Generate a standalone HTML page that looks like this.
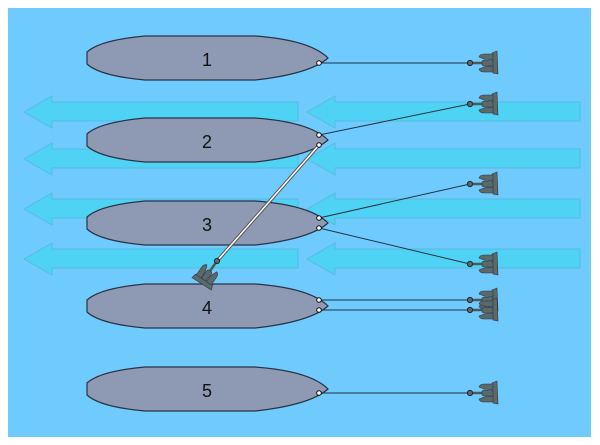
<!DOCTYPE html>
<html><head><style>body{margin:0;background:#fff}svg{display:block}</style></head>
<body>
<svg width="600" height="445" viewBox="0 0 600 445" xmlns="http://www.w3.org/2000/svg">
<defs>
<path id="arrL" d="M24,112 L52,96 L52,102 L298,102 L298,121 L52,121 L52,128 Z"/>
<path id="arrR" d="M307,112 L335,96 L335,102 L580,102 L580,121 L335,121 L335,128 Z"/>
<path id="ship" d="M87,52 Q100,40 145,36 L255,36 Q310,40 328,58 Q310,74 255,80 L145,80 Q100,76 87,64 Z"/>
<g id="anc">
<line x1="0" y1="0" x2="22" y2="0" stroke="#4a5a5a" stroke-width="2.5"/>
<circle cx="0" cy="0" r="2.6" fill="#5a6a6a" stroke="#223" stroke-width="1"/>
<path d="M22,-10 L27,-12 L28,11 L23,10 Z" fill="#5a6a6a" stroke="#334" stroke-width="0.6"/>
<path d="M9,-6 Q10,-9 14,-9 L23,-9 L23,-3 L14,-4 Z" fill="#5a6a6a" stroke="#334" stroke-width="0.6"/>
<path d="M12,-1 Q12,-3 15,-3 L23,-2 L23,3 L15,3 Q12,3 12,1 Z" fill="#5a6a6a" stroke="#334" stroke-width="0.6"/>
<path d="M9,6 Q10,9 14,9 L23,9 L23,3 L14,4 Z" fill="#5a6a6a" stroke="#334" stroke-width="0.6"/>
</g>
</defs>
<rect x="8" y="8" width="583" height="429" fill="#6fcbfd"/>
<g fill="#4dd4f4" stroke="#5ab9e0" stroke-width="1" opacity="0.95">
<use href="#arrL"/><use href="#arrR"/>
<use href="#arrL" transform="translate(0,47)"/><use href="#arrR" transform="translate(0,47)"/>
<use href="#arrL" transform="translate(0,97)"/><use href="#arrR" transform="translate(0,97)"/>
<use href="#arrL" transform="translate(0,147)"/><use href="#arrR" transform="translate(0,147)"/>
</g>
<g fill="#8e9ab3" stroke="#2a3344" stroke-width="1.2">
<use href="#ship"/>
<use href="#ship" transform="translate(0,82)"/>
<use href="#ship" transform="translate(0,165)"/>
<use href="#ship" transform="translate(0,248)"/>
<use href="#ship" transform="translate(0,331)"/>
</g>
<g font-family="Liberation Sans, sans-serif" font-size="18" text-anchor="middle" fill="#111">
<text x="207" y="66">1</text><text x="207" y="148">2</text><text x="207" y="231">3</text><text x="207" y="314">4</text><text x="207" y="397">5</text>
</g>
<g stroke="#223344" stroke-width="1">
<line x1="319" y1="63" x2="470" y2="63"/>
<line x1="319" y1="135" x2="470" y2="104"/>
<line x1="319" y1="218" x2="470" y2="184"/>
<line x1="319" y1="228" x2="470" y2="264"/>
<line x1="319" y1="300" x2="470" y2="300"/>
<line x1="319" y1="310" x2="470" y2="310"/>
<line x1="319" y1="393" x2="470" y2="393"/>
</g>
<line x1="319" y1="145" x2="218" y2="260" stroke="#555" stroke-width="3.5"/>
<line x1="319" y1="145" x2="218" y2="260" stroke="#fff" stroke-width="1.5"/>
<use href="#anc" transform="translate(470,63)"/>
<use href="#anc" transform="translate(470,104)"/>
<use href="#anc" transform="translate(470,184)"/>
<use href="#anc" transform="translate(470,264)"/>
<use href="#anc" transform="translate(470,300)"/>
<use href="#anc" transform="translate(470,310)"/>
<use href="#anc" transform="translate(470,393)"/>
<use href="#anc" transform="translate(217,261) rotate(125)"/>
<g fill="#fff" stroke="#111" stroke-width="1">
<circle cx="319" cy="63" r="2.3"/>
<circle cx="319" cy="135" r="2.3"/><circle cx="319" cy="145" r="2.3"/>
<circle cx="319" cy="218" r="2.3"/><circle cx="319" cy="228" r="2.3"/>
<circle cx="319" cy="300" r="2.3"/><circle cx="319" cy="310" r="2.3"/>
<circle cx="319" cy="393" r="2.3"/>
</g>
</svg>
</body></html>
